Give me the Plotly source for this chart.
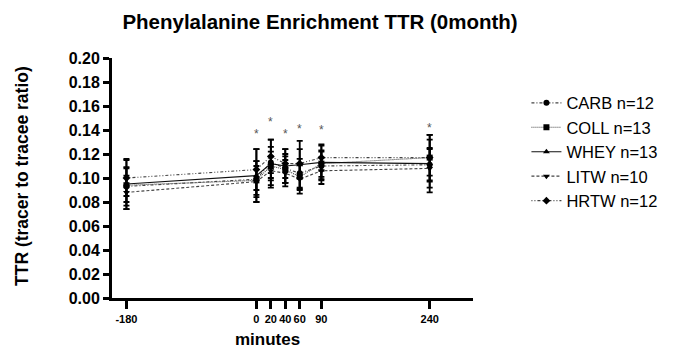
import plotly.graph_objects as go

minutes = [-180, 0, 20, 40, 60, 90, 240]
x_ticks = [-180, 0, 20, 40, 60, 90, 240]
y_ticks = [0.00, 0.02, 0.04, 0.06, 0.08, 0.10, 0.12, 0.14, 0.16, 0.18, 0.20]

carb = [0.093, 0.099, 0.113, 0.108, 0.104, 0.110, 0.111]
carb_err = [0.016, 0.015, 0.013, 0.012, 0.012, 0.012, 0.014]
coll = [0.094, 0.098, 0.110, 0.107, 0.101, 0.112, 0.117]
coll_err = [0.014, 0.012, 0.012, 0.011, 0.011, 0.011, 0.015]
whey = [0.095, 0.102, 0.112, 0.110, 0.111, 0.113, 0.112]
whey_err = [0.021, 0.022, 0.020, 0.014, 0.020, 0.014, 0.024]
litw = [0.088, 0.097, 0.106, 0.104, 0.099, 0.106, 0.108]
litw_err = [0.014, 0.017, 0.012, 0.011, 0.012, 0.011, 0.016]
hrtw = [0.100, 0.107, 0.118, 0.112, 0.112, 0.117, 0.117]
hrtw_err = [0.015, 0.017, 0.014, 0.012, 0.012, 0.011, 0.019]

star_x = [0, 20, 40, 60, 90, 240]
star_y = [0.137, 0.147, 0.137, 0.141, 0.140, 0.142]

series = [
    ("CARB n=12", carb, carb_err, "3px,2px,1px,2px", "circle"),
    ("COLL n=13", coll, coll_err, "1px,1px", "square"),
    ("WHEY n=13", whey, whey_err, "solid", "triangle-up"),
    ("LITW n=10", litw, litw_err, "3px,2px", "triangle-down"),
    ("HRTW n=12", hrtw, hrtw_err, "1px,2px,1px,2px,3px,2px", "diamond"),
]

fig = go.Figure()
for i, (name, vals, errs, dash, sym) in enumerate(series):
    fig.add_trace(go.Scatter(
        x=minutes, y=vals, name=name, mode="lines+markers",
        legendgroup=f"g{i}",
        line=dict(color="#111" if dash == "solid" else "#444", width=1.1, dash=dash),
        marker=dict(symbol=sym, size=6, color="black"),
        error_y=dict(type="data", array=errs, visible=True, color="black",
                     thickness=1.8, width=3),
    ))

for sx, sy in zip(star_x, star_y):
    fig.add_annotation(x=sx, y=sy, text="*", showarrow=False,
                       font=dict(family="Liberation Sans", size=12, color="#555"),
                       yanchor="middle")

# axis titles as annotations for precise placement
fig.add_annotation(text="minutes", xref="paper", yref="paper",
                   x=(267 - 112) / 361, y=-(339 - 298) / 240,
                   showarrow=False, xanchor="center", yanchor="middle",
                   font=dict(family="Liberation Sans", size=17, color="black",
                             weight="bold"))
fig.add_annotation(text="TTR (tracer to tracee ratio)", xref="paper", yref="paper",
                   x=(22 - 112) / 361, y=(298 - 176) / 240, textangle=-90,
                   showarrow=False, xanchor="center", yanchor="middle",
                   font=dict(family="Liberation Sans", size=17.5, color="black",
                             weight="bold"))

fig.update_layout(
    width=678, height=354,
    margin=dict(l=112, r=205, t=58, b=56),
    paper_bgcolor="white", plot_bgcolor="white",
    title=dict(text="Phenylalanine Enrichment TTR (0month)",
               font=dict(family="Liberation Sans", size=20.5,
                         color="black", weight="bold"),
               x=320 / 678, xanchor="center", y=1 - 22 / 354, yanchor="middle"),
    showlegend=True,
    legend=dict(x=1.148, xanchor="left", y=0.885, yanchor="top",
                font=dict(family="Liberation Sans", size=16.5, color="black"),
                tracegroupgap=0, bgcolor="rgba(0,0,0,0)"),
    xaxis=dict(range=[-200, 300], tickmode="array", tickvals=x_ticks,
               ticktext=[str(t) for t in x_ticks], tickangle=0,
               showgrid=False, zeroline=False, showline=True, linewidth=3,
               linecolor="black", ticks="outside", ticklen=8, tickwidth=2.5,
               tickcolor="black", ticklabelstandoff=1,
               tickfont=dict(family="Liberation Sans Narrow, Liberation Sans", size=11,
                             color="black", weight="bold")),
    yaxis=dict(range=[0, 0.2], tickmode="array", tickvals=y_ticks,
               ticktext=[f"{t:.2f}" for t in y_ticks],
               showgrid=False, zeroline=False, showline=True, linewidth=3,
               linecolor="black", ticks="outside", ticklen=6, tickwidth=2.5,
               tickcolor="black",
               tickfont=dict(family="Liberation Sans", size=16,
                             color="black", weight="bold")),
)

fig.write_html("out.html")
